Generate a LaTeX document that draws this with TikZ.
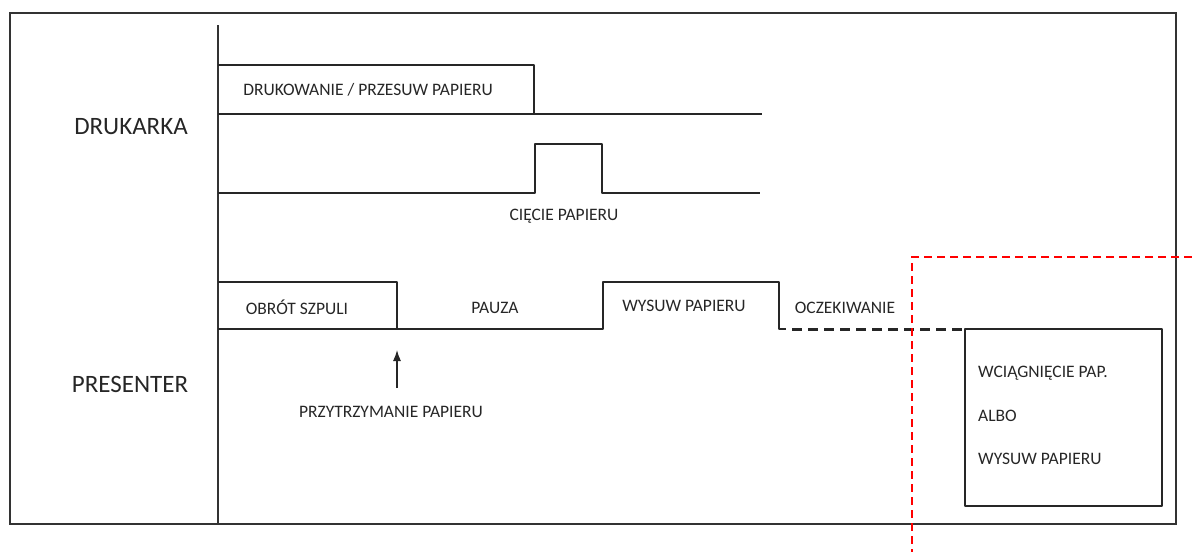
\documentclass[tikz,border=0pt]{standalone}
\usepackage{fontspec}
\setmainfont{Carlito}
\usetikzlibrary{arrows.meta}
\begin{document}
\begin{tikzpicture}[x=1pt,y=-1pt,
  sig/.style={line width=2.6pt,black!85,line join=round},
  frame/.style={line width=1.4pt,black!80},
  lbl/.style={font=\fontsize{17.5}{20}\selectfont,inner sep=0pt,text=black!85},
  big/.style={font=\fontsize{25}{30}\selectfont,inner sep=0pt,text=black!85},
  reddash/.style={red,line width=1.4pt,dash pattern=on 8pt off 5pt}]
\useasboundingbox (0,0) rectangle (1192,552);
% frame and axis
\draw[frame] (10,13) rectangle (1176,524);
\coordinate (axtop) at (218,25);
\coordinate (axbot) at (218,524);
\draw[frame] (axtop) -- (axbot);
% labels
\node[big] (drukarka) at (131,127) {DRUKARKA};
\node[big] (presenter) at (130,384) {PRESENTER};
% printing / paper feed
\draw[sig] (218,65) -- (534,65) -- (534,114);
\draw[sig] (218,114) -- (762,114);
\node[lbl] (druk) at (368,90) {DRUKOWANIE / PRZESUW PAPIERU};
% cutting
\draw[sig] (218,193) -- (535,193) -- (535,144) -- (602,144) -- (602,193) -- (760,193);
\node[lbl] (ciecie) at (564,216) {CIĘCIE PAPIERU};
% presenter
\draw[sig] (218,282) -- (397,282) -- (397,329);
\draw[sig] (218,329) -- (603,329) -- (603,282) -- (779,282) -- (779,329) -- (786,329);
\draw[sig,line width=3pt,dash pattern=on 10pt off 6pt] (792,329) -- (965,329);
\node[lbl] (obrot) at (297,307) {OBRÓT SZPULI};
\node[lbl] (pauza) at (495,308) {PAUZA};
\node[lbl] (wysuw) at (684,306) {WYSUW PAPIERU};
\node[lbl] (oczek) at (845,308) {OCZEKIWANIE};
% hold arrow
\coordinate (arrfrom) at (397,388);
\coordinate (arrto) at (397,350);
\draw[line width=1.2pt,black!85,-{Latex[length=11pt,width=8pt]}] (arrfrom) -- (arrto);
\node[lbl] (hold) at (391,412) {PRZYTRZYMANIE PAPIERU};
% final box
\draw[sig] (965,329) rectangle (1162,506);
\node[lbl,anchor=west] (wc) at (978,373) {WCIĄGNIĘCIE PAP.};
\node[lbl,anchor=west] (albo) at (978,416) {ALBO};
\node[lbl,anchor=west] (wys2) at (978,459) {WYSUW PAPIERU};
% red dashed region
\coordinate (rtop) at (912,257);
\draw[reddash] (1192,257) -- (rtop) -- (912,552);
\end{tikzpicture}
\end{document}
